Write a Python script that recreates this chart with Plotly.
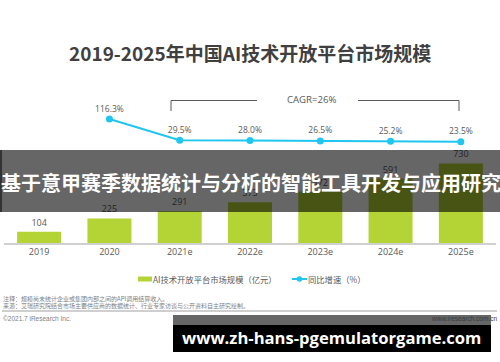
import plotly.graph_objects as go

categories = ["2019", "2020", "2021e", "2022e", "2023e", "2024e", "2025e"]
market_size = [104, 225, 291, 373, 472, 591, 730]
growth = [None, 116.3, 29.5, 28.0, 26.5, 25.2, 23.5]
growth_labels = ["" if g is None else f"{g:.1f}%" for g in growth]

title_text = "2019-2025年中国AI技术开放平台市场规模"
bar_name = "AI技术开放平台市场规模（亿元）"
line_name = "同比增速（%）"
cagr_text = "CAGR=26%"
note1 = "注释：规模尚未统计企业或集团内部之间的API调用结算收入。"
note2 = "来源：艾瑞研究院结合市场主要供应商的数据统计、行业专家访谈与公开资料自主研究绘制。"
copyright_text = "©2021.7 iResearch Inc."
site_text = "www.iresearch.com.cn"
banner_text = "基于意甲赛季数据统计与分析的智能工具开发与应用研究"
url_text = "www.zh-hans-pgemulatorgame.com"

GREEN = "#B4D334"
CYAN = "#1FC6F0"
GRAY = "#595959"
FONT_NUM = "Open Sans, Noto Sans CJK SC, sans-serif"
FONT_CJK = "Noto Sans CJK SC, sans-serif"

# layout geometry (pixels)
W, H = 500, 362
ML, MR, MT, MB = 4, 4, 90, 119
PH = H - MT - MB  # plot height
BASE = H - MB


def py(p):
    """pixel y -> paper y"""
    return (BASE - p) / PH


def px(p):
    """pixel x -> paper x"""
    return (p - ML) / (W - ML - MR)


fig = go.Figure()
fig.add_trace(go.Bar(
    x=categories, y=market_size, name=bar_name,
    marker=dict(color=GREEN, line=dict(width=0)),
    text=[str(v) for v in market_size], textposition="outside",
    textfont=dict(size=9, color=GRAY, family=FONT_NUM),
    cliponaxis=False, showlegend=False,
))
fig.add_trace(go.Scatter(
    x=categories, y=growth, name=line_name, yaxis="y2",
    mode="lines+markers+text",
    line=dict(color=CYAN, width=2),
    marker=dict(color=CYAN, size=7),
    text=growth_labels, textposition="top center",
    textfont=dict(size=8.5, color=GRAY, family=FONT_NUM),
    cliponaxis=False, showlegend=False,
))

shapes = []
# CAGR bracket
bracket = dict(type="line", xref="paper", yref="paper",
               line=dict(color=GRAY, width=1))
shapes.append({**bracket, "x0": px(171), "x1": px(171), "y0": py(100.5), "y1": py(111)})
shapes.append({**bracket, "x0": px(171), "x1": px(257), "y0": py(100.5), "y1": py(100.5)})
shapes.append({**bracket, "x0": px(358), "x1": px(459), "y0": py(100.5), "y1": py(100.5)})
shapes.append({**bracket, "x0": px(459), "x1": px(459), "y0": py(100.5), "y1": py(111)})
# manual legend
shapes.append(dict(type="rect", xref="paper", yref="paper",
                   x0=px(138), x1=px(152), y0=py(281.5), y1=py(276.5),
                   fillcolor=GREEN, line=dict(width=0)))
shapes.append(dict(type="line", xref="paper", yref="paper",
                   x0=px(292), x1=px(307), y0=py(279), y1=py(279),
                   line=dict(color=CYAN, width=2)))
shapes.append(dict(type="circle", xref="paper", yref="paper",
                   x0=px(296.8), x1=px(302.2), y0=py(281.7), y1=py(276.3),
                   fillcolor=CYAN, line=dict(width=0)))
# separator line
shapes.append(dict(type="line", xref="paper", yref="paper",
                   x0=px(2), x1=px(497), y0=py(311), y1=py(311),
                   line=dict(color="#BFBFBF", width=1.5)))
# overlay banner
shapes.append(dict(type="rect", xref="paper", yref="paper", layer="above",
                   x0=px(0), x1=px(500), y0=py(212), y1=py(150),
                   fillcolor="rgba(0,0,0,0.6)", line=dict(width=0)))
shapes.append(dict(type="rect", xref="paper", yref="paper", layer="above",
                   x0=px(0), x1=px(2), y0=py(212), y1=py(150),
                   fillcolor="rgba(0,0,0,0.5)", line=dict(width=0)))
# bottom url box
shapes.append(dict(type="rect", xref="paper", yref="paper", layer="above",
                   x0=px(173), x1=px(491), y0=py(325), y1=py(315),
                   fillcolor="rgba(0,0,0,0.6)", line=dict(width=0)))
shapes.append(dict(type="rect", xref="paper", yref="paper", layer="above",
                   x0=px(173), x1=px(491), y0=py(352), y1=py(325),
                   fillcolor="#000000", line=dict(width=0)))


def ann(text, x, y, size, color, family, anchor="left"):
    return dict(text=text, xref="paper", yref="paper", x=px(x), y=py(y),
                showarrow=False, font=dict(size=size, color=color, family=family),
                xanchor=anchor, yanchor="middle")


annotations = [
    ann(f"<b>{title_text}</b>", 67, 52, 19, "#404040", FONT_CJK),
    ann(cagr_text, 311, 99.5, 9.6, GRAY, FONT_NUM, "center"),
    ann(bar_name, 151, 279, 8.3, GRAY, FONT_CJK),
    ann(line_name, 306, 279, 8.3, GRAY, FONT_CJK),
    ann(note1, 1, 298, 6.0, "#7F7F7F", FONT_CJK),
    ann(note2, 1, 305, 6.0, "#7F7F7F", FONT_CJK),
    ann(copyright_text, 1, 318, 6.5, "#7F7F7F", "Liberation Sans, sans-serif"),
    ann(site_text, 499, 318, 6.5, "#3A3A3A", "Liberation Sans, sans-serif", "right"),
    ann(f"<b>{banner_text}</b>", -1, 182, 20, "#FFFFFF", FONT_CJK),
    ann(f"<b>{url_text}</b>", 180, 337, 16.6, "#FFFFFF", "Open Sans, DejaVu Sans, sans-serif"),
]

# axis ranges from pixel calibration
bar_max = PH / 0.109
lpp = (141.7 - 119) / (116.3 - 23.5)  # px per %
g_lo = 116.3 - (BASE - 119) / lpp
g_hi = g_lo + PH / lpp

fig.update_layout(
    width=W, height=H,
    margin=dict(l=ML, r=MR, t=MT, b=MB),
    paper_bgcolor="white", plot_bgcolor="white",
    bargap=0.374,
    xaxis=dict(type="category", range=[-0.5, 6.5], showgrid=False,
               showline=True, linecolor="#D0D0D0", linewidth=1.5,
               ticks="", tickfont=dict(size=9, color=GRAY, family=FONT_NUM),
               fixedrange=True),
    yaxis=dict(range=[0, bar_max], visible=False, showgrid=False, fixedrange=True),
    yaxis2=dict(range=[g_lo, g_hi], overlaying="y", visible=False,
                showgrid=False, fixedrange=True),
    showlegend=False,
    hovermode=False,
    shapes=shapes,
    annotations=annotations,
)

fig.write_html("out.html", config={"displayModeBar": False, "staticPlot": True},
               post_script="document.body.style.margin='0';")
